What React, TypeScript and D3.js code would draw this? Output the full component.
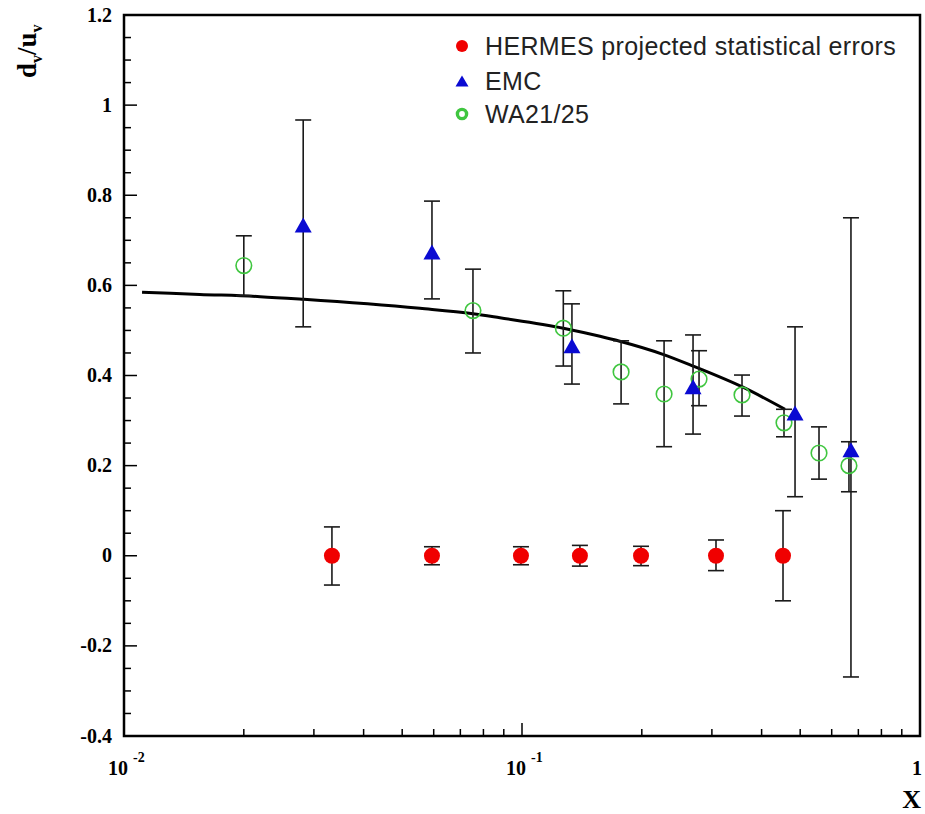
import React from 'react';
import * as d3 from 'd3';

// ---- data ----
const hermesX = [0.0333, 0.0594, 0.0994, 0.1398, 0.1991, 0.3072, 0.4527];
const hermesY = [0, 0, 0, 0, 0, 0, 0];
const hermesHi = [0.064, 0.02, 0.02, 0.023, 0.021, 0.035, 0.1];
const hermesLo = [-0.065, -0.02, -0.02, -0.023, -0.022, -0.033, -0.1];

const emcX = [0.0282, 0.0594, 0.1335, 0.269, 0.4853, 0.6707];
const emcY = [0.734, 0.674, 0.466, 0.375, 0.317, 0.235];
const emcHi = [0.967, 0.787, 0.559, 0.49, 0.508, 0.75];
const emcLo = [0.508, 0.57, 0.381, 0.27, 0.131, -0.269];

const waX = [0.02, 0.0753, 0.127, 0.1774, 0.2275, 0.2785, 0.3571, 0.4553, 0.5575, 0.663];
const waY = [0.644, 0.544, 0.505, 0.408, 0.359, 0.392, 0.357, 0.295, 0.228, 0.2];
const waHi = [0.71, 0.636, 0.588, 0.477, 0.477, 0.455, 0.401, 0.325, 0.286, 0.253];
const waLo = [0.577, 0.45, 0.421, 0.337, 0.242, 0.333, 0.31, 0.264, 0.17, 0.142];

const curveX = [0.0111, 0.0155, 0.022, 0.0283, 0.0554, 0.0753, 0.088, 0.127, 0.157, 0.176, 0.226, 0.269, 0.359, 0.458];
const curveY = [0.585, 0.58, 0.575, 0.569, 0.549, 0.537, 0.528, 0.505, 0.487, 0.476, 0.447, 0.421, 0.374, 0.325];

const yTickValues = [-0.4, -0.2, 0, 0.2, 0.4, 0.6, 0.8, 1, 1.2];
const yTickLabels = ['-0.4', '-0.2', '0', '0.2', '0.4', '0.6', '0.8', '1', '1.2'];
const xDecades = [0.01, 0.1, 1];
const xDecadeBase = ['10', '10', '1'];
const xDecadeExp = ['-2', '-1', ''];

const legendLabels = ['HERMES projected statistical errors', 'EMC', 'WA21/25'];

// ---- layout ----
const W = 925, H = 814;
const L = 124, R = 920, T = 15, B = 736;

const RED = '#f00000';
const BLUE = '#0a0ad2';
const GREEN = '#3fc63f';
const BAR = '#1a1a1a';

export default function App() {
  const x = d3.scaleLog().domain([0.01, 1]).range([L, R]);
  const y = d3.scaleLinear().domain([-0.4, 1.2]).range([B, T]);

  const yMinor = d3.range(-0.4, 1.2001, 0.05).map((v) => +v.toFixed(2));
  const xMinor: number[] = [];
  [0.01, 0.1].forEach((d) => {
    for (let k = 2; k <= 9; k++) xMinor.push(d * k);
  });

  const line = d3
    .line<number>()
    .x((_, i) => x(curveX[i]))
    .y((_, i) => y(curveY[i]))
    .curve(d3.curveMonotoneX);

  const capW = 16;
  const errBar = (xv: number, lo: number, hi: number, key: string) => {
    const px = x(xv);
    return (
      <g key={key} stroke={BAR} strokeWidth={1.6}>
        <line x1={px} x2={px} y1={y(lo)} y2={y(hi)} />
        <line x1={px - capW / 2} x2={px + capW / 2} y1={y(lo)} y2={y(lo)} />
        <line x1={px - capW / 2} x2={px + capW / 2} y1={y(hi)} y2={y(hi)} />
      </g>
    );
  };

  const tri = (cx: number, cy: number, w: number, h: number) =>
    `M${cx - w / 2},${cy + h / 2}L${cx + w / 2},${cy + h / 2}L${cx},${cy - h / 2}Z`;

  const serif = '"Liberation Serif", "Times New Roman", serif';
  const sans = '"Liberation Sans", Arial, sans-serif';

  const legendX = 462;
  const legendTextX = 485;
  const legendY = [46, 81, 114];

  return (
    <svg width={W} height={H} style={{ position: 'absolute', left: 0, top: 0, background: '#fff' }}>
      <rect x={0} y={0} width={W} height={H} fill="#fff" />

      {/* ticks */}
      <g stroke="#000" strokeWidth={1.5}>
        {yMinor.map((v, i) => {
          const major = Math.abs(v * 5 - Math.round(v * 5)) < 1e-6;
          return <line key={'ym' + i} x1={L} x2={L + (major ? 13 : 7)} y1={y(v)} y2={y(v)} />;
        })}
        {xMinor.map((v, i) => (
          <line key={'xm' + i} x1={x(v)} x2={x(v)} y1={B} y2={B - 7} />
        ))}
        {xDecades.map((v, i) => (
          <line key={'xM' + i} x1={x(v)} x2={x(v)} y1={B} y2={B - 13} />
        ))}
      </g>

      {/* frame */}
      <rect x={L} y={T} width={R - L} height={B - T} fill="none" stroke="#000" strokeWidth={2.5} />

      {/* y tick labels */}
      <g fontFamily={serif} fontWeight="bold" fontSize={20} textAnchor="end">
        {yTickValues.map((v, i) => (
          <text key={'yl' + i} x={112} y={y(v)} dy="0.33em">
            {yTickLabels[i]}
          </text>
        ))}
      </g>

      {/* x tick labels */}
      <g fontFamily={serif} fontWeight="bold">
        {xDecades.map((v, i) =>
          xDecadeExp[i] ? (
            <g key={'xl' + i}>
              <text x={x(v) + 4} y={775} fontSize={20} textAnchor="end">
                {xDecadeBase[i]}
              </text>
              <text x={x(v) + 9} y={762} fontSize={14}>
                {xDecadeExp[i]}
              </text>
            </g>
          ) : (
            <text key={'xl' + i} x={x(v) - 3} y={775} fontSize={20} textAnchor="middle">
              {xDecadeBase[i]}
            </text>
          )
        )}
      </g>

      {/* axis titles */}
      <text x={921} y={808} fontFamily={serif} fontWeight="bold" fontSize={26} textAnchor="end">
        X
      </text>
      <text transform="translate(36,78) rotate(-90)" fontFamily={serif} fontWeight="bold" fontSize={27}>
        d
        <tspan fontSize={16} dy={6}>v</tspan>
        <tspan dy={-6}>/u</tspan>
        <tspan fontSize={16} dy={6}>v</tspan>
      </text>

      {/* curve */}
      <path d={line(curveX) || ''} fill="none" stroke="#000" strokeWidth={3} />

      {/* error bars */}
      {hermesX.map((v, i) => errBar(v, hermesY[i] + hermesLo[i], hermesY[i] + hermesHi[i], 'he' + i))}
      {waX.map((v, i) => errBar(v, waLo[i], waHi[i], 'we' + i))}
      {emcX.map((v, i) => errBar(v, emcLo[i], emcHi[i], 'ee' + i))}

      {/* markers */}
      {waX.map((v, i) => (
        <circle key={'wm' + i} cx={x(v)} cy={y(waY[i])} r={7.8} fill="none" stroke={GREEN} strokeWidth={1.6} />
      ))}
      {emcX.map((v, i) => (
        <path key={'em' + i} d={tri(x(v), y(emcY[i]), 17, 15)} fill={BLUE} />
      ))}
      {hermesX.map((v, i) => (
        <circle key={'hm' + i} cx={x(v)} cy={y(hermesY[i])} r={8} fill={RED} />
      ))}

      {/* legend */}
      <circle cx={legendX} cy={legendY[0]} r={6} fill={RED} />
      <path d={tri(legendX, legendY[1], 13, 11)} fill={BLUE} />
      <circle cx={legendX} cy={legendY[2]} r={4.6} fill="none" stroke={GREEN} strokeWidth={3.4} />
      <g fontFamily={sans} fontSize={25} fill="#222" letterSpacing={0.35}>
        {legendLabels.map((t, i) => (
          <text key={'lg' + i} x={legendTextX} y={legendY[i]} dy="0.36em">
            {t}
          </text>
        ))}
      </g>
    </svg>
  );
}
